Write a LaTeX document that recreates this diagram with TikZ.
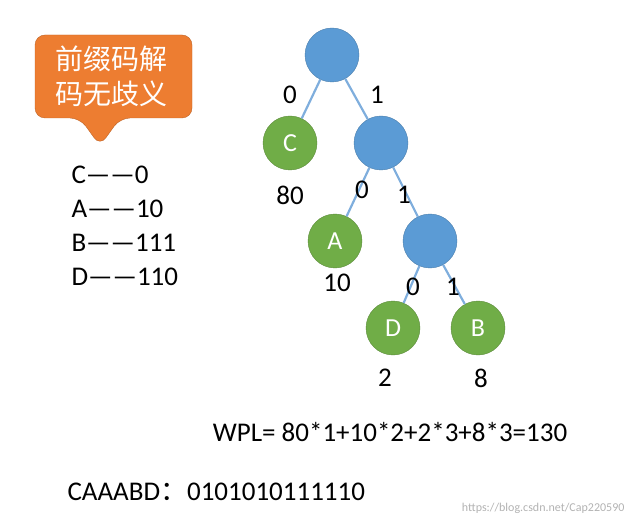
\documentclass[tikz,border=0pt]{standalone}
\usepackage{fontspec}
\setmainfont{Carlito}
\newfontfamily\cjk{Noto Sans CJK SC}
\definecolor{nblue}{HTML}{5B9BD5}
\definecolor{ngreen}{HTML}{70AD47}
\definecolor{eblue}{HTML}{7FAEDD}
\definecolor{corange}{HTML}{ED7D31}
\begin{document}
\begin{tikzpicture}[x=1pt,y=-1pt,
  inner/.style={circle,fill=nblue,draw=nblue!80!black,minimum size=54pt,inner sep=0pt},
  leaf/.style={circle,fill=ngreen,draw=ngreen!80!black,minimum size=54pt,inner sep=0pt,text=white,font=\fontsize{26}{30}\selectfont},
  lbl/.style={font=\fontsize{27}{30}\selectfont},
  edge/.style={eblue,line width=2.2pt}]
\useasboundingbox (0,0) rectangle (639,529);
\node[inner] (r) at (332,55) {};
\node[leaf] (c) at (290,143) {C};
\node[inner] (n1) at (381,143) {};
\node[leaf] (a) at (335,241) {A};
\node[inner] (n2) at (430,241) {};
\node[leaf] (d) at (393,328) {D};
\node[leaf] (b) at (478,328) {B};
\draw[edge] (r) -- (c); \draw[edge] (r) -- (n1);
\draw[edge] (n1) -- (a); \draw[edge] (n1) -- (n2);
\draw[edge] (n2) -- (d); \draw[edge] (n2) -- (b);
\node[lbl] (l1) at (290,95) {0}; \node[lbl] (l2) at (377,95) {1};
\node[lbl] (l3) at (290,195) {80};
\node[lbl] (l4) at (362,190) {0}; \node[lbl] (l5) at (404,195) {1};
\node[lbl] (l6) at (337,283) {10};
\node[lbl] (l7) at (413,287) {0}; \node[lbl] (l8) at (453,287) {1};
\node[lbl] (l9) at (385,378) {2}; \node[lbl] (l10) at (481,378) {8};
\node[lbl,anchor=west] (k1) at (68,175) {C——0};
\node[lbl,anchor=west] (k2) at (68,209) {A——10};
\node[lbl,anchor=west] (k3) at (68,243) {B——111};
\node[lbl,anchor=west] (k4) at (68,277) {D——110};
\node[lbl] (w) at (390,432) {WPL= 80*1+10*2+2*3+8*3=130};
\node[lbl,anchor=west] (s) at (64,492) {CAAABD{\cjk ：}0101010111110};
\fill[corange,draw=corange!80!black,rounded corners=10pt] (35,35) -- (192,35) -- (192,118) -- (120,118) -- (100,146) -- (80,118) -- (35,118) -- cycle;
\node[text=white,font=\cjk\fontsize{28}{35}\selectfont,align=left] (t) at (111,76) {前缀码解\\码无歧义};
\node[gray!60,font=\fontsize{12}{14}\selectfont,anchor=east] (wm) at (628,508) {https://blog.csdn.net/Cap220590};
\end{tikzpicture}
\end{document}
